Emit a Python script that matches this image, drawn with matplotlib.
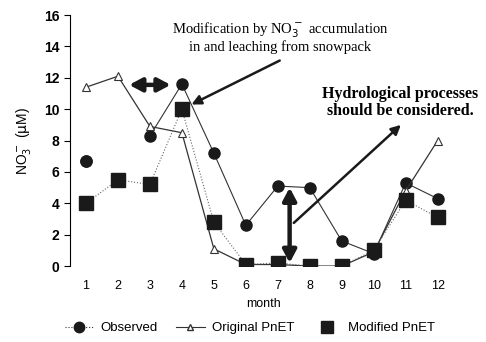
import numpy as np
import matplotlib.pyplot as plt
from matplotlib.lines import Line2D

months = np.arange(1, 13)
observed = [6.7, np.nan, 8.3, 11.6, 7.2, 2.6, 5.1, 5.0, 1.6, 0.8, 5.3, 4.3]
original = [11.4, 12.1, 8.9, 8.5, 1.1, 0.1, 0.1, 0.0, 0.0, 0.9, 4.8, 8.0]
modified = [4.0, 5.5, 5.2, 10.0, 2.8, 0.1, 0.2, 0.0, 0.0, 1.0, 4.2, 3.1]

plt.rcParams['font.family'] = ['Liberation Sans', 'DejaVu Sans']

fig = plt.figure(figsize=(4.86, 3.42), dpi=100)
ax = fig.add_axes([0.144, 0.222, 0.796, 0.734])

ax.plot(months, observed, '-', color='#333333', lw=0.8, marker='o', ms=8,
        mfc='#1a1a1a', mec='#1a1a1a')
# isolated first observation
ax.plot(months[:1], observed[:1], 'o', color='#1a1a1a', ms=8)
ax.plot(months, original, '-', color='#333333', lw=0.9, marker='^', ms=5.5,
        mfc='white', mec='#333333', mew=0.8)
ax.plot(months, modified, ':', color='#666666', lw=0.8, marker='s', ms=9.5,
        mfc='#1a1a1a', mec='#1a1a1a')

ax.set_xlim(0.5, 12.6)
ax.set_ylim(0, 16)
ax.set_yticks(np.arange(0, 17, 2))
ax.set_xticks(months)
ax.spines['top'].set_visible(False)
ax.spines['right'].set_visible(False)
ax.spines['bottom'].set_visible(False)
ax.axhline(0, color='#999999', lw=0.6, ls=(0, (3, 5)), zorder=0)
ax.tick_params(axis='x', length=0, labelsize=9, pad=10)
ax.tick_params(axis='y', direction='out', length=4, labelsize=10)
for lbl in ax.get_yticklabels():
    lbl.set_fontweight('bold')
ax.set_xlabel('month', fontsize=9, labelpad=4)
ax.set_ylabel(r'NO$_3^-$ ($\mathrm{\mu}$M)', fontsize=10, labelpad=8)

# annotations
dbl = dict(arrowstyle='<|-|>,head_length=0.75,head_width=0.4', lw=3.2,
           color='#1a1a1a', mutation_scale=10, shrinkA=0, shrinkB=0)
ax.annotate('', xy=(2.35, 11.55), xytext=(3.65, 11.55), arrowprops=dbl)
ax.annotate('', xy=(7.37, 5.0), xytext=(7.37, 0.2), arrowprops=dbl)
ax.annotate('', xy=(4.3, 10.3), xytext=(7.06, 13.1),
            arrowprops=dict(arrowstyle='-|>', lw=1.8, color='#1a1a1a',
                            mutation_scale=14, shrinkA=0, shrinkB=0))
ax.annotate('', xy=(10.85, 9.0), xytext=(7.5, 2.75),
            arrowprops=dict(arrowstyle='-|>', lw=1.8, color='#1a1a1a',
                            mutation_scale=14, shrinkA=0, shrinkB=0))

serif = ['Liberation Serif', 'DejaVu Serif']
fig.text(0.576, 0.892, 'Modification by NO$_3^-$ accumulation\nin and leaching from snowpack',
         ha='center', va='center', fontsize=10.5, family=serif, linespacing=1.05)
fig.text(0.823, 0.70, 'Hydrological processes\nshould be considered.',
         ha='center', va='center', fontsize=11.5, family=serif,
         fontweight='bold', linespacing=1.05)

handles = [
    Line2D([], [], color='#333333', ls=':', lw=0.8, marker='o', ms=7.5,
           mfc='#1a1a1a', mec='#1a1a1a'),
    Line2D([], [], color='#333333', ls='-', lw=0.8, marker='^', ms=5,
           mfc='white', mec='#333333'),
    Line2D([], [], color='white', ls='', marker='s', ms=8,
           mfc='#1a1a1a', mec='#1a1a1a'),
]
fig.legend(handles, ['Observed', 'Original PnET', 'Modified PnET'],
           loc='center', bbox_to_anchor=(0.514, 0.04), ncol=3, frameon=False,
           fontsize=9.5, handlelength=2.2, columnspacing=1.4, handletextpad=0.5)

fig.savefig('out.png', dpi=100)
